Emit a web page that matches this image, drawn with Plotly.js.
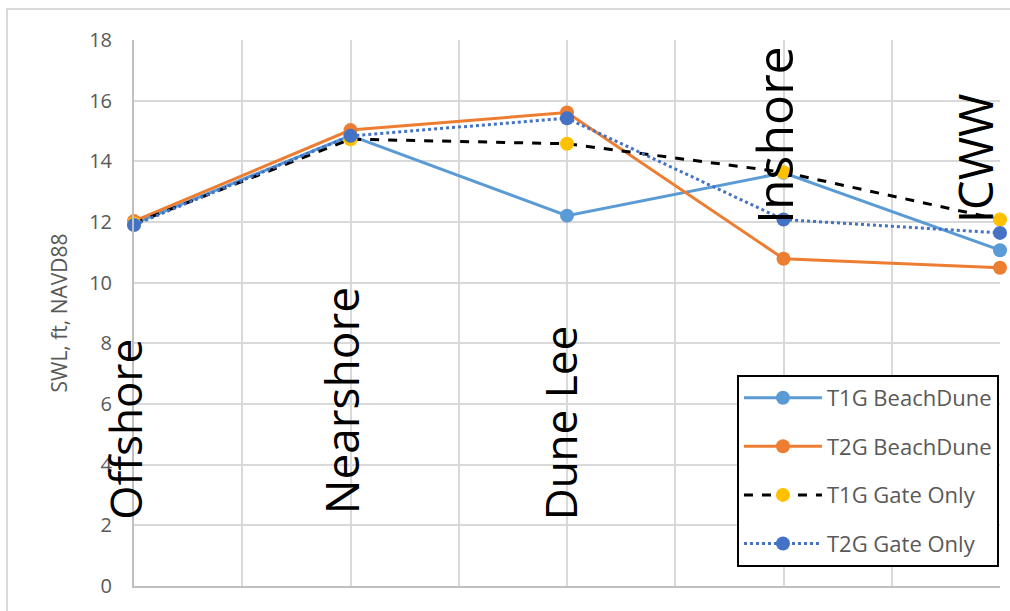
<!DOCTYPE html>
<html>
<head>
<meta charset="utf-8">
<script src="https://cdn.plot.ly/plotly-3.0.1.min.js"></script>
<style>html,body{margin:0;padding:0;background:#fff;}#chart{width:1010px;height:611px;}</style>
</head>
<body>
<div id="chart"></div>
<script>
// Data
var categories = ["Offshore", "Nearshore", "Dune Lee", "Inshore", "ICWW"];
var xPositions = [0, 1, 2, 3, 4];
var seriesNames = ["T1G BeachDune", "T2G BeachDune", "T1G Gate Only", "T2G Gate Only"];
var t1gBeachDune = [11.95, 14.85, 12.21, 13.62, 11.07];
var t2gBeachDune = [12.03, 15.03, 15.61, 10.79, 10.49];
var t1gGateOnly  = [11.95, 14.73, 14.58, 13.64, 12.08];
var t2gGateOnly  = [11.90, 14.84, 15.42, 12.08, 11.64];
var yTickValues = [0, 2, 4, 6, 8, 10, 12, 14, 16, 18];

var FONT = "Open Sans, Liberation Sans, sans-serif";

function trace(name, ys, lineColor, dash, markerColor, group) {
  return {
    type: "scatter", mode: "lines+markers", name: name,
    x: xPositions, y: ys, legendgroup: group,
    line: {color: lineColor, width: 3, dash: dash},
    marker: {color: markerColor, size: 14},
    cliponaxis: false
  };
}

var data = [
  trace(seriesNames[0], t1gBeachDune, "#5B9BD5", "solid", "#5B9BD5", "g1"),
  trace(seriesNames[1], t2gBeachDune, "#ED7D31", "solid", "#ED7D31", "g2"),
  trace(seriesNames[2], t1gGateOnly, "#000000", "dash", "#FFC000", "g3"),
  trace(seriesNames[3], t2gGateOnly, "#4472C4", "dot", "#4472C4", "g4")
];

// category label placement (layout only)
var labelShiftX = [-9, -10, -7, -10, -25];
var labelY = [2.1, 2.3, 2.1, 11.85, 11.9];
var labelSize = [44, 46, 44, 50, 47];
var annotations = categories.map(function (c, i) {
  return {
    text: c, x: xPositions[i], y: labelY[i], xref: "x", yref: "y",
    xshift: labelShiftX[i],
    showarrow: false, textangle: -90, xanchor: "center", yanchor: "bottom",
    font: {family: FONT, size: labelSize[i], color: "#000000"}
  };
});

var layout = {
  width: 1010, height: 611,
  margin: {l: 134, r: 10, t: 40, b: 25},
  paper_bgcolor: "#ffffff", plot_bgcolor: "#ffffff",
  showlegend: true,
  legend: {
    x: 0.9988, y: 0.035, xanchor: "right", yanchor: "bottom",
    bgcolor: "#ffffff", bordercolor: "#000000", borderwidth: 2,
    font: {family: FONT, size: 22, color: "#595959"},
    itemwidth: 78, tracegroupgap: 17, traceorder: "grouped"
  },
  xaxis: {
    range: [0, 4], dtick: 0.5, tick0: 0, showticklabels: false,
    showgrid: true, gridcolor: "#d9d9d9", gridwidth: 2,
    showline: true, linecolor: "#bfbfbf", linewidth: 2,
    zeroline: false, ticks: "", fixedrange: true
  },
  yaxis: {
    range: [0, 18], tickvals: yTickValues, ticktext: yTickValues.map(String),
    showgrid: true, gridcolor: "#d9d9d9", gridwidth: 2,
    showline: true, linecolor: "#bfbfbf", linewidth: 2,
    zeroline: false, ticks: "", ticklabelstandoff: 16,
    tickfont: {family: FONT, size: 20, color: "#595959"},
    title: {text: "SWL, ft, NAVD88", font: {family: FONT, size: 21, color: "#595959"}, standoff: 16},
    fixedrange: true
  },
  annotations: annotations,
  shapes: [{
    type: "rect", xref: "paper", yref: "paper",
    x0: -0.1467, x1: 1.3, y0: -0.3, y1: 1.0568,
    line: {color: "#d9d9d9", width: 2}, fillcolor: "rgba(0,0,0,0)", layer: "below"
  }]
};

Plotly.newPlot("chart", data, layout, {displayModeBar: false, staticPlot: true});
</script>
</body>
</html>
